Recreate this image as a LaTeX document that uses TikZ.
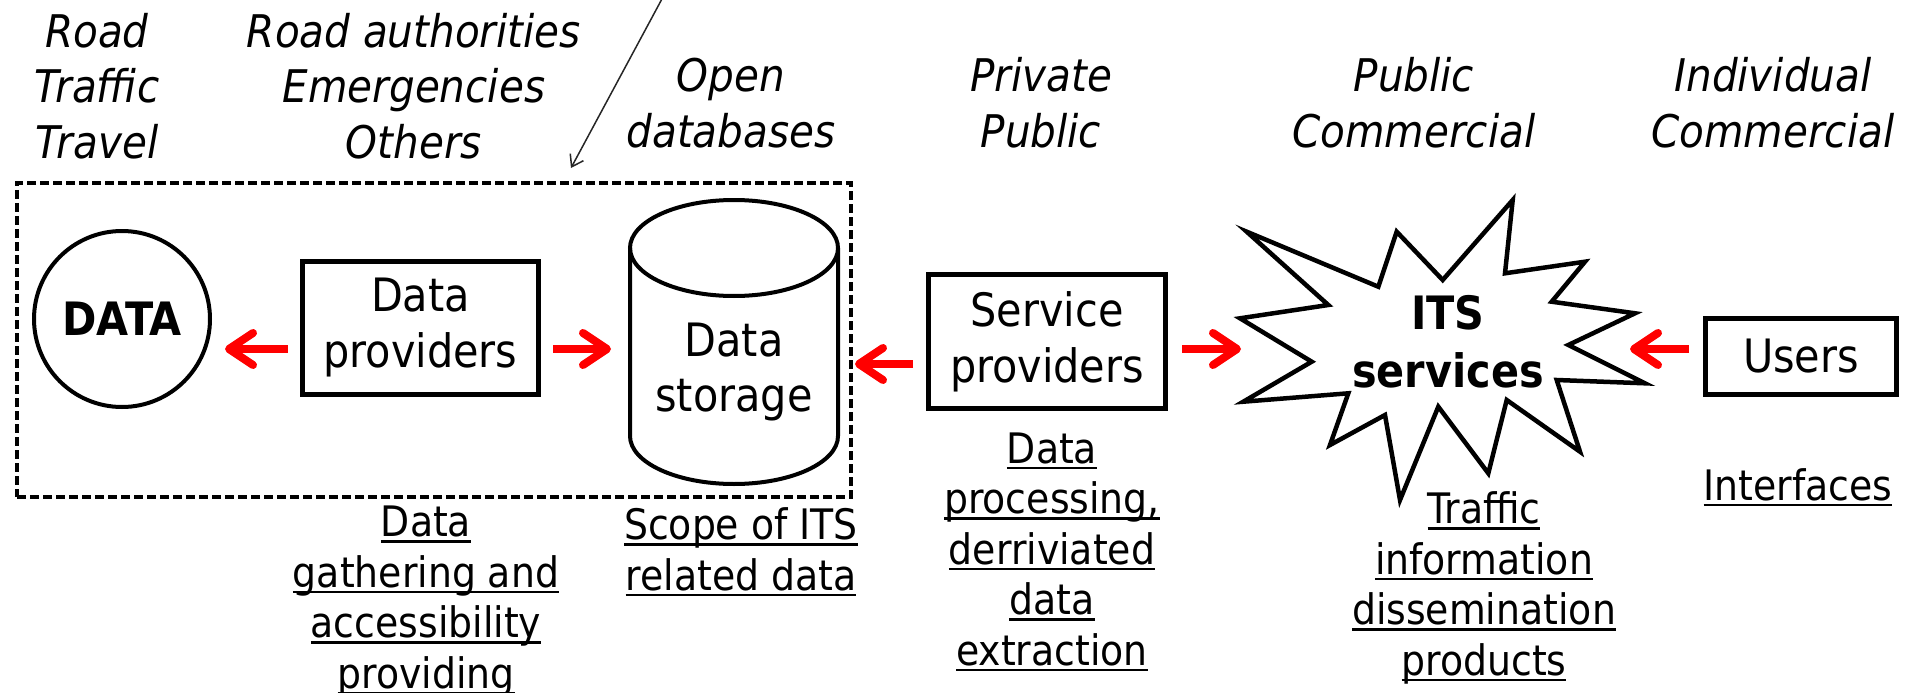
\documentclass[tikz,border=0pt]{standalone}
\usepackage{fontspec}
\setmainfont{DejaVu Sans Condensed}
\usetikzlibrary{arrows.meta}

% underlined caption line: a rule a little below the baseline
\newsavebox{\ulbox}
\newcommand{\ulin}[1]{\sbox{\ulbox}{#1}\rlap{\rule[-6.2pt]{\wd\ulbox}{2.4pt}}\usebox{\ulbox}}

\begin{document}
\begin{tikzpicture}[x=1pt, y=-1pt,
  every node/.style={outer sep=0pt, inner sep=0pt},
  boxnode/.style={draw, line width=5pt, align=center,
    font=\fontsize{46}{56}\selectfont},
  labit/.style={align=center, anchor=base,
    font=\fontsize{45}{55.5}\selectfont\itshape},
  caption/.style={align=center, anchor=base,
    font=\fontsize{42}{50.5}\selectfont},
  redarr/.style={draw=red, line width=8pt,
    -{Straight Barb[round, length=24pt, width=32pt]}},
  thinarr/.style={draw=black!85, line width=1.5pt,
    -{Straight Barb[length=11pt, width=15pt]}},
  outline/.style={draw, line width=4.5pt, line join=miter}
]
\useasboundingbox (0,0) rectangle (1907,693);

% scope of ITS related data
\node[draw, line width=3.2pt, dash pattern=on 9pt off 4pt,
      minimum width=834, minimum height=314] (scope) at (434,340) {};

% data source
\node[circle, draw, line width=4pt, minimum size=176,
      font=\fontsize{46}{56}\selectfont\bfseries] (data) at (122,319) {DATA};

% data providers
\node[boxnode, minimum width=236, minimum height=133] (dprov) at (420.5,328)
  {Data\\providers};

% data storage (cylinder)
\node[minimum width=210, minimum height=287] (store) at (734,341.5) {};
\draw[line width=4pt] (734,248) ellipse [x radius=104, y radius=48];
\draw[line width=4pt] (630,248) -- (630,436)
  arc[start angle=180, end angle=0, x radius=104, y radius=48] -- (838,248);
\node[align=center, font=\fontsize{46}{55}\selectfont] (storelbl) at (734,372)
  {Data\\storage};

% service providers
\node[boxnode, minimum width=237, minimum height=134] (sp) at (1047,341.5)
  {Service\\providers};

% ITS services burst
\draw[outline] (1246.7,231.7) -- (1378.3,286.7) -- (1396.7,231.7) -- (1442.7,280)
  -- (1512.7,200) -- (1505,273.3) -- (1585,261.7) -- (1551.7,301.7)
  -- (1635,313.3) -- (1568.3,345) -- (1645,383.3) -- (1556.7,380)
  -- (1580,451.7) -- (1506.7,400) -- (1488.3,473.3) -- (1438.3,406.7)
  -- (1400,500) -- (1385,415) -- (1330,445) -- (1348.3,393.3)
  -- (1243.3,401.7) -- (1311.7,361.7) -- (1240,318.3) -- (1328.3,305) -- cycle;
\node[align=center, font=\fontsize{46}{58}\selectfont\bfseries] (its) at (1448,342)
  {ITS\\services};

% users
\node[boxnode, minimum width=191, minimum height=76] (users) at (1801,356.5)
  {Users};

% flows
\draw[redarr] ([shift={(-15,21)}]dprov.west) -- ([shift={(15,30)}]data.east);
\draw[redarr] ([shift={(14.5,21)}]dprov.east) -- ([shift={(-18,7.5)}]store.west);
\draw[redarr] ([shift={(-15.5,22.5)}]sp.west) -- ([shift={(16,22.5)}]store.east);
\draw[redarr] ([shift={(16.5,7.5)}]sp.east) -- ([shift={(-207,7)}]its.center);
\draw[redarr] ([shift={(-16.5,-7.5)}]users.west) -- ([shift={(182,7)}]its.center);

% open databases pointer
\coordinate (odbsrc) at (663,-3);
\draw[thinarr] (odbsrc) -- ([shift={(554,-15)}]scope.north west);

% stakeholder labels (anchored on the baseline of their last line)
\node[labit] (lab1) at (97,158) {Road\\Traffic\\Travel};
\node[labit] (lab2) at (414,158) {Road authorities\\Emergencies\\Others};
\node[labit] (lab3) at (731,147) {Open\\databases};
\node[labit] (lab4) at (1041,147) {Private\\Public};
\node[labit] (lab5) at (1414,147) {Public\\Commercial};
\node[labit] (lab6) at (1773,147) {Individual\\Commercial};

% activity captions
\node[caption] (cap1) at (426,688)
  {\ulin{Data}\\\ulin{gathering and}\\\ulin{accessibility}\\\ulin{providing}};
\node[caption] (cap2) at (741,590) {\ulin{Scope of ITS}\\\ulin{related data}};
\node[caption] (cap3) at (1052,665)
  {\ulin{Data}\\\ulin{processing,}\\\ulin{derriviated}\\\ulin{data}\\\ulin{extraction}};
\node[caption] (cap4) at (1484,675)
  {\ulin{Traffic}\\\ulin{information}\\\ulin{dissemination}\\\ulin{products}};
\node[caption] (cap5) at (1798,500) {\ulin{Interfaces}};
\end{tikzpicture}
\end{document}
